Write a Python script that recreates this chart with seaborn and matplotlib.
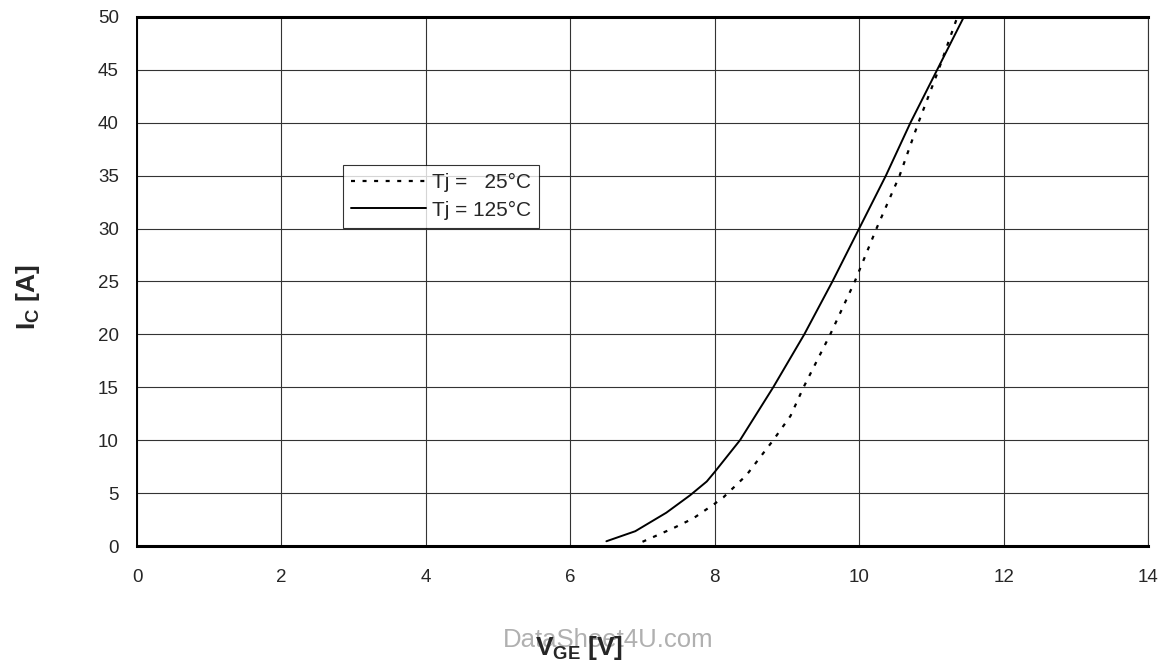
import numpy as np
import pandas as pd
import matplotlib
matplotlib.use("Agg")
import matplotlib.pyplot as plt
import seaborn as sns

# transfer characteristic
vge_25 = [7.0, 7.43, 7.7, 8.0, 8.12, 8.44, 8.63, 8.81, 9.05, 9.23, 9.60, 9.94, 10.24, 10.56, 10.82, 11.1, 11.36]
ic_25 = [0.4, 1.7, 2.6, 4.0, 4.6, 6.7, 8.4, 10.0, 12.3, 15.0, 20.0, 25.0, 30.0, 35.0, 40.0, 45.0, 50.0]

vge_125 = [6.5, 6.9, 7.33, 7.66, 7.89, 8.0, 8.35, 8.81, 9.24, 9.63, 10.0, 10.37, 10.71, 11.08, 11.45]
ic_125 = [0.45, 1.4, 3.15, 4.8, 6.1, 7.0, 10.0, 15.0, 20.0, 25.0, 30.0, 35.0, 40.0, 45.0, 50.0]

x_ticks = [0, 2, 4, 6, 8, 10, 12, 14]
y_ticks = [0, 5, 10, 15, 20, 25, 30, 35, 40, 45, 50]

sns.set_style("white")
plt.rcParams['font.family'] = ['Liberation Sans', 'DejaVu Sans']
plt.rcParams['mathtext.fontset'] = 'custom'
plt.rcParams['mathtext.rm'] = 'Liberation Sans'
plt.rcParams['mathtext.bf'] = 'Liberation Sans:bold'

df25 = pd.DataFrame({'VGE': vge_25, 'IC': ic_25})
df125 = pd.DataFrame({'VGE': vge_125, 'IC': ic_125})

fig = plt.figure(figsize=(11.65, 6.68), dpi=100)
ax = fig.add_axes([0.1176, 0.1826, 0.8678, 0.792])

sns.lineplot(data=df25, x='VGE', y='IC', ax=ax, color='black', linewidth=1.6,
             sort=False, label='Tj =   25°C')
ax.lines[-1].set_dashes((1.8, 3.4))
sns.lineplot(data=df125, x='VGE', y='IC', ax=ax, color='black', linewidth=1.4,
             sort=False, label='Tj = 125°C')

ax.set_xlim(0, 14)
ax.set_ylim(0, 50)
ax.set_xticks(x_ticks)
ax.set_yticks(y_ticks)
ax.grid(True, color='#333333', linewidth=0.8)
ax.set_axisbelow(True)

for side in ['bottom', 'top']:
    ax.spines[side].set_linewidth(2.2)
    ax.spines[side].set_color('black')
ax.spines['left'].set_linewidth(1.4)
ax.spines['left'].set_color('black')
ax.spines['right'].set_linewidth(0.8)
ax.spines['right'].set_color('#333333')

ax.tick_params(axis='both', direction='out', length=5, width=1, color='#888888',
               labelsize=13.5)
ax.tick_params(axis='y', pad=8)
ax.tick_params(axis='x', pad=11.5)

ax.set_xlabel('')
ax.set_ylabel('')
fig.text(0.024, 0.555, r'$\mathbf{I_C}$ [A]', rotation=90, fontsize=19,
         fontweight='bold', ha='center', va='center')
fig.text(0.522, 0.042, 'DataSheet4U.com', fontsize=18.5, color='#b0b0b0',
         ha='center', va='center')
fig.text(0.497, 0.030, r'$\mathbf{V_{GE}}$ [V]', fontsize=19,
         fontweight='bold', ha='center', va='center')

leg = ax.legend(loc='upper left', bbox_to_anchor=(0.2038, 0.7202), frameon=True,
                fancybox=False, edgecolor='black', fontsize=15, handlelength=3.6,
                handletextpad=0.25, borderpad=0.4, labelspacing=0.4,
                borderaxespad=0)
leg.get_frame().set_linewidth(0.8)

fig.savefig('out.png', dpi=100)
